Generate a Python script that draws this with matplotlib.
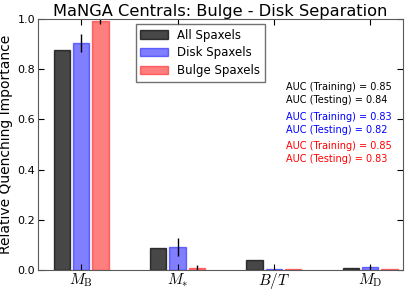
import numpy as np
import matplotlib
matplotlib.use("Agg")
import matplotlib.pyplot as plt

plt.rcParams['mathtext.fontset'] = 'cm'

labels = [r'$M_{\rm B}$', r'$M_{*}$', r'$B/T$', r'$M_{\rm D}$']
all_vals = [0.875, 0.088, 0.040, 0.008]
disk_vals = [0.905, 0.092, 0.004, 0.012]
disk_err = [0.035, 0.035, 0.002, 0.005]
bulge_vals = [0.992, 0.010, 0.004, 0.004]
bulge_err = [0.012, 0.012, 0.0, 0.0]

auc_text = [("AUC (Training) = 0.85\nAUC (Testing) = 0.84", 'k'),
            ("AUC (Training) = 0.83\nAUC (Testing) = 0.82", 'b'),
            ("AUC (Training) = 0.85\nAUC (Testing) = 0.83", 'r')]

x = np.arange(len(labels))
w = 0.17

fig = plt.figure(figsize=(4.07, 2.92), dpi=100)
ax = fig.add_axes([0.093, 0.075, 0.897, 0.86])

ax.bar(x - 0.2, all_vals, w, color='k', alpha=0.72, edgecolor='k', linewidth=1, label='All Spaxels')
ax.bar(x, disk_vals, w, color='b', alpha=0.5, edgecolor='b', linewidth=1, label='Disk Spaxels')
ax.bar(x + 0.2, bulge_vals, w, color='r', alpha=0.5, edgecolor='r', linewidth=1, label='Bulge Spaxels')
ax.errorbar(x, disk_vals, yerr=disk_err, fmt='none', ecolor='k', elinewidth=1)
ax.errorbar(x + 0.2, bulge_vals, yerr=bulge_err, fmt='none', ecolor='k', elinewidth=1)

ax.set_xlim(-0.45, 3.34)
ax.set_ylim(0, 1.0)
ax.set_xticks(x)
ax.set_xticklabels(labels, fontsize=11)
ax.set_yticks([0.0, 0.2, 0.4, 0.6, 0.8, 1.0])
ax.tick_params(axis='y', labelsize=8, pad=2)
ax.tick_params(direction='in', top=True, right=True, length=4)
ax.tick_params(axis='x', pad=1)
for s in ax.spines.values():
    s.set_color('0.35')

ax.set_ylabel('Relative Quenching Importance', fontsize=10, labelpad=3)
ax.set_title('MaNGA Centrals: Bulge - Disk Separation', fontsize=11.7, pad=2)

leg = ax.legend(loc='upper left', bbox_to_anchor=(0.268, 0.98), borderaxespad=0,
                fontsize=8.5, fancybox=False, handlelength=2.3, labelspacing=0.4)
leg.get_frame().set_edgecolor('0.3')

ty = [0.75, 0.63, 0.515]
for (t, c), yy in zip(auc_text, ty):
    ax.text(0.68, yy, t, color=c, fontsize=7, transform=ax.transAxes,
            va='top', linespacing=1.45)

fig.savefig('out.png', dpi=100)
